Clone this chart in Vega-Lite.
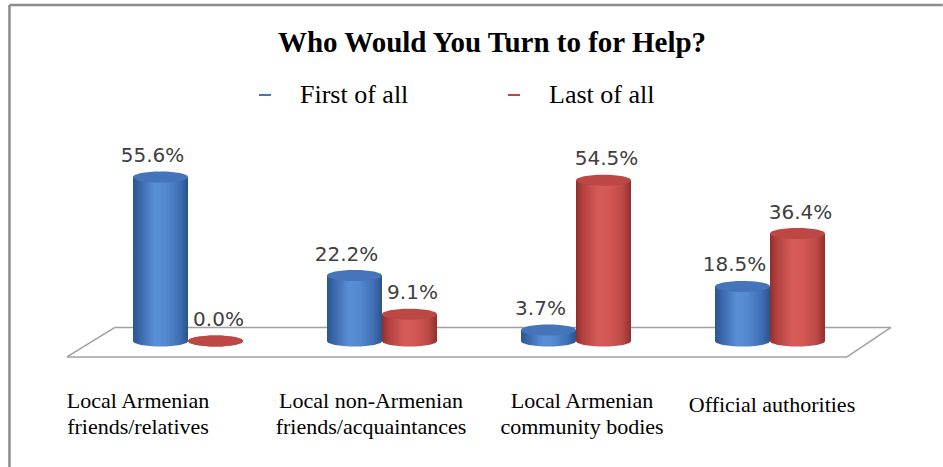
{
  "$schema": "https://vega.github.io/schema/vega-lite/v6.json",
  "width": 776,
  "height": 177,
  "autosize": {"type": "none"},
  "padding": {"left": 91, "top": 164, "right": 76, "bottom": 126},
  "background": "white",
  "config": {
    "view": {"stroke": null},
    "legend": {
      "labelFont": "Liberation Serif",
      "labelFontSize": 26,
      "labelColor": "black",
      "labelOffset": 22,
      "columnPadding": 92,
      "padding": 0,
      "symbolType": "M-1,-0.17H1V0.17H-1Z",
      "symbolSize": 144,
      "symbolStrokeWidth": 0
    }
  },
  "title": {
    "text": "Who Would You Turn to for Help?",
    "font": "Liberation Serif",
    "fontSize": 29,
    "fontWeight": "bold",
    "color": "black",
    "anchor": "middle",
    "frame": "group",
    "dx": 13,
    "offset": -54
  },
  "datasets": {
    "bars": [
      {"category": "Local Armenian friends/relatives", "series": "First of all", "value": 0.556},
      {"category": "Local Armenian friends/relatives", "series": "Last of all", "value": 0.0},
      {"category": "Local non-Armenian friends/acquaintances", "series": "First of all", "value": 0.222},
      {"category": "Local non-Armenian friends/acquaintances", "series": "Last of all", "value": 0.091},
      {"category": "Local Armenian community bodies", "series": "First of all", "value": 0.037},
      {"category": "Local Armenian community bodies", "series": "Last of all", "value": 0.545},
      {"category": "Official authorities", "series": "First of all", "value": 0.185},
      {"category": "Official authorities", "series": "Last of all", "value": 0.364}
    ],
    "categories": [
      {"category": "Local Armenian friends/relatives", "label": ["Local Armenian", "friends/relatives"]},
      {"category": "Local non-Armenian friends/acquaintances", "label": ["Local non-Armenian", "friends/acquaintances"]},
      {"category": "Local Armenian community bodies", "label": ["Local Armenian", "community bodies"]},
      {"category": "Official authorities", "label": ["Official authorities"]}
    ]
  },
  "data": {"name": "bars"},
  "layer": [
    {
      "data": {"values": [{}]},
      "mark": {"type": "rule", "color": "#8c8c8c", "strokeWidth": 2.5},
      "encoding": {
        "x": {"datum": "Local Armenian friends/relatives", "type": "nominal", "bandPosition": -1.123, "axis": null,
          "scale": {"type": "band", "domain": ["Local Armenian friends/relatives", "Local non-Armenian friends/acquaintances", "Local Armenian community bodies", "Official authorities"], "paddingInner": 0.433, "paddingOuter": 0.2165}},
        "y": {"datum": 1.139, "type": "quantitative", "axis": null, "scale": {"domain": [0, 0.6], "nice": false, "zero": true}},
        "y2": {"datum": -0.43}
      }
    },
    {
      "data": {"values": [{}]},
      "mark": {"type": "rule", "color": "#8c8c8c", "strokeWidth": 2.5},
      "encoding": {
        "x": {"datum": "Local Armenian friends/relatives", "type": "nominal", "bandPosition": -1.123, "axis": null},
        "x2": {"datum": "Official authorities", "bandPosition": 2.07},
        "y": {"datum": 1.139, "type": "quantitative", "axis": null}
      }
    },
    {
      "data": {"values": [{}]},
      "mark": {"type": "rule", "color": "#a0a0a0", "strokeWidth": 1.5},
      "encoding": {
        "x": {"datum": "Local Armenian friends/relatives", "type": "nominal", "bandPosition": -0.6, "axis": null},
        "x2": {"datum": "Official authorities", "bandPosition": 1.2},
        "y": {"datum": -0.054, "type": "quantitative", "axis": null}
      }
    },
    {
      "data": {"values": [{}]},
      "mark": {"type": "rule", "color": "#a0a0a0", "strokeWidth": 1.5},
      "encoding": {
        "x": {"datum": "Local Armenian friends/relatives", "type": "nominal", "bandPosition": -0.164, "axis": null},
        "x2": {"datum": "Official authorities", "bandPosition": 1.6},
        "y": {"datum": 0.046, "type": "quantitative", "axis": null}
      }
    },
    {
      "data": {"values": [{}]},
      "mark": {"type": "rule", "color": "#a0a0a0", "strokeWidth": 1.5},
      "encoding": {
        "x": {"datum": "Local Armenian friends/relatives", "type": "nominal", "bandPosition": -0.164, "axis": null},
        "x2": {"datum": "Local Armenian friends/relatives", "bandPosition": -0.6},
        "y": {"datum": 0.046, "type": "quantitative", "axis": null},
        "y2": {"datum": -0.054}
      }
    },
    {
      "data": {"values": [{}]},
      "mark": {"type": "rule", "color": "#a0a0a0", "strokeWidth": 1.5},
      "encoding": {
        "x": {"datum": "Official authorities", "type": "nominal", "bandPosition": 1.6, "axis": null},
        "x2": {"datum": "Official authorities", "bandPosition": 1.2},
        "y": {"datum": 0.046, "type": "quantitative", "axis": null},
        "y2": {"datum": -0.054}
      }
    },
    {
      "transform": [{"filter": "datum.series === 'First of all'"}],
      "mark": {
        "type": "point", "filled": true, "opacity": 1, "strokeWidth": 0,
        "shape": "M-1,0A1,0.2,0,1,1,1,0A1,0.2,0,1,1,-1,0Z", "size": 3025,
        "fill": {"gradient": "linear", "x1": 0, "y1": 0, "x2": 1, "y2": 0,
          "stops": [{"offset": 0, "color": "#2c5591"}, {"offset": 0.12, "color": "#3866a8"}, {"offset": 0.4, "color": "#5a8fd6"}, {"offset": 0.6, "color": "#5488cf"}, {"offset": 0.85, "color": "#3e6fb3"}, {"offset": 1, "color": "#2b538c"}]}
      },
      "encoding": {
        "x": {"field": "category", "type": "nominal", "axis": null},
        "xOffset": {"field": "series", "type": "nominal", "scale": {"type": "band", "domain": ["First of all", "Last of all"], "paddingInner": 0, "paddingOuter": 0}},
        "y": {"datum": 0, "type": "quantitative", "axis": null}
      }
    },
    {
      "transform": [{"filter": "datum.series === 'First of all'"}],
      "mark": {
        "type": "bar",
        "fill": {"gradient": "linear", "x1": 0, "y1": 0, "x2": 1, "y2": 0,
          "stops": [{"offset": 0, "color": "#2c5591"}, {"offset": 0.12, "color": "#3866a8"}, {"offset": 0.4, "color": "#5a8fd6"}, {"offset": 0.6, "color": "#5488cf"}, {"offset": 0.85, "color": "#3e6fb3"}, {"offset": 1, "color": "#2b538c"}]}
      },
      "encoding": {
        "x": {"field": "category", "type": "nominal", "axis": null},
        "xOffset": {"field": "series", "type": "nominal", "scale": {"type": "band", "domain": ["First of all", "Last of all"], "paddingInner": 0, "paddingOuter": 0}},
        "y": {"field": "value", "type": "quantitative", "axis": null}
      }
    },
    {
      "transform": [{"filter": "datum.series === 'Last of all'"}],
      "mark": {
        "type": "point", "filled": true, "opacity": 1, "strokeWidth": 0,
        "shape": "M-1,0A1,0.2,0,1,1,1,0A1,0.2,0,1,1,-1,0Z", "size": 3025,
        "fill": {"gradient": "linear", "x1": 0, "y1": 0, "x2": 1, "y2": 0,
          "stops": [{"offset": 0, "color": "#8e302e"}, {"offset": 0.12, "color": "#b2403e"}, {"offset": 0.4, "color": "#d65c59"}, {"offset": 0.6, "color": "#d25855"}, {"offset": 0.85, "color": "#bd4845"}, {"offset": 1, "color": "#8e302e"}]}
      },
      "encoding": {
        "x": {"field": "category", "type": "nominal", "axis": null},
        "xOffset": {"field": "series", "type": "nominal", "scale": {"type": "band", "domain": ["First of all", "Last of all"], "paddingInner": 0, "paddingOuter": 0}},
        "y": {"datum": 0, "type": "quantitative", "axis": null}
      }
    },
    {
      "transform": [{"filter": "datum.series === 'Last of all'"}],
      "mark": {
        "type": "bar",
        "fill": {"gradient": "linear", "x1": 0, "y1": 0, "x2": 1, "y2": 0,
          "stops": [{"offset": 0, "color": "#8e302e"}, {"offset": 0.12, "color": "#b2403e"}, {"offset": 0.4, "color": "#d65c59"}, {"offset": 0.6, "color": "#d25855"}, {"offset": 0.85, "color": "#bd4845"}, {"offset": 1, "color": "#8e302e"}]}
      },
      "encoding": {
        "x": {"field": "category", "type": "nominal", "axis": null},
        "xOffset": {"field": "series", "type": "nominal", "scale": {"type": "band", "domain": ["First of all", "Last of all"], "paddingInner": 0, "paddingOuter": 0}},
        "y": {"field": "value", "type": "quantitative", "axis": null}
      }
    },
    {
      "mark": {
        "type": "point", "filled": true, "opacity": 1, "strokeWidth": 0,
        "shape": "M-1,0A1,0.2,0,1,1,1,0A1,0.2,0,1,1,-1,0Z", "size": 3025
      },
      "encoding": {
        "x": {"field": "category", "type": "nominal", "axis": null},
        "xOffset": {"field": "series", "type": "nominal", "scale": {"type": "band", "domain": ["First of all", "Last of all"], "paddingInner": 0, "paddingOuter": 0}},
        "y": {"field": "value", "type": "quantitative", "axis": null},
        "color": {"field": "series", "type": "nominal",
          "scale": {"domain": ["First of all", "Last of all"], "range": ["#4575b8", "#bd4744"]},
          "legend": {"title": null, "orient": "none", "direction": "horizontal", "legendX": 161, "legendY": -82}}
      }
    },
    {
      "transform": [{"filter": "datum.series === 'First of all'"}],
      "mark": {"type": "text", "font": "DejaVu Sans", "fontSize": 20, "color": "#404040", "baseline": "bottom", "dy": -11, "dx": -8},
      "encoding": {
        "x": {"field": "category", "type": "nominal", "axis": null},
        "xOffset": {"field": "series", "type": "nominal", "scale": {"type": "band", "domain": ["First of all", "Last of all"], "paddingInner": 0, "paddingOuter": 0}},
        "y": {"field": "value", "type": "quantitative", "axis": null},
        "text": {"field": "value", "type": "quantitative", "format": ".1%"}
      }
    },
    {
      "transform": [{"filter": "datum.series === 'Last of all'"}],
      "mark": {"type": "text", "font": "DejaVu Sans", "fontSize": 20, "color": "#404040", "baseline": "bottom", "dy": -11, "dx": 3},
      "encoding": {
        "x": {"field": "category", "type": "nominal", "axis": null},
        "xOffset": {"field": "series", "type": "nominal", "scale": {"type": "band", "domain": ["First of all", "Last of all"], "paddingInner": 0, "paddingOuter": 0}},
        "y": {"field": "value", "type": "quantitative", "axis": null},
        "text": {"field": "value", "type": "quantitative", "format": ".1%"}
      }
    },
    {
      "data": {"name": "categories"},
      "transform": [{"filter": "datum.category === 'Local Armenian friends/relatives'"}],
      "mark": {"type": "text", "font": "Liberation Serif", "fontSize": 22, "color": "black", "baseline": "top", "align": "center", "lineHeight": 26, "dx": -50},
      "encoding": {
        "x": {"field": "category", "type": "nominal", "axis": null},
        "y": {"datum": -0.168, "type": "quantitative", "axis": null},
        "text": {"field": "label", "type": "nominal"}
      }
    },
    {
      "data": {"name": "categories"},
      "transform": [{"filter": "datum.category === 'Local non-Armenian friends/acquaintances'"}],
      "mark": {"type": "text", "font": "Liberation Serif", "fontSize": 22, "color": "black", "baseline": "top", "align": "center", "lineHeight": 26, "dx": -11},
      "encoding": {
        "x": {"field": "category", "type": "nominal", "axis": null},
        "y": {"datum": -0.168, "type": "quantitative", "axis": null},
        "text": {"field": "label", "type": "nominal"}
      }
    },
    {
      "data": {"name": "categories"},
      "transform": [{"filter": "datum.category === 'Local Armenian community bodies'"}],
      "mark": {"type": "text", "font": "Liberation Serif", "fontSize": 22, "color": "black", "baseline": "top", "align": "center", "lineHeight": 26, "dx": 6},
      "encoding": {
        "x": {"field": "category", "type": "nominal", "axis": null},
        "y": {"datum": -0.168, "type": "quantitative", "axis": null},
        "text": {"field": "label", "type": "nominal"}
      }
    },
    {
      "data": {"name": "categories"},
      "transform": [{"filter": "datum.category === 'Official authorities'"}],
      "mark": {"type": "text", "font": "Liberation Serif", "fontSize": 22, "color": "black", "baseline": "top", "align": "center", "lineHeight": 26, "dx": 2, "dy": 4},
      "encoding": {
        "x": {"field": "category", "type": "nominal", "axis": null},
        "y": {"datum": -0.168, "type": "quantitative", "axis": null},
        "text": {"field": "label", "type": "nominal"}
      }
    }
  ]
}
